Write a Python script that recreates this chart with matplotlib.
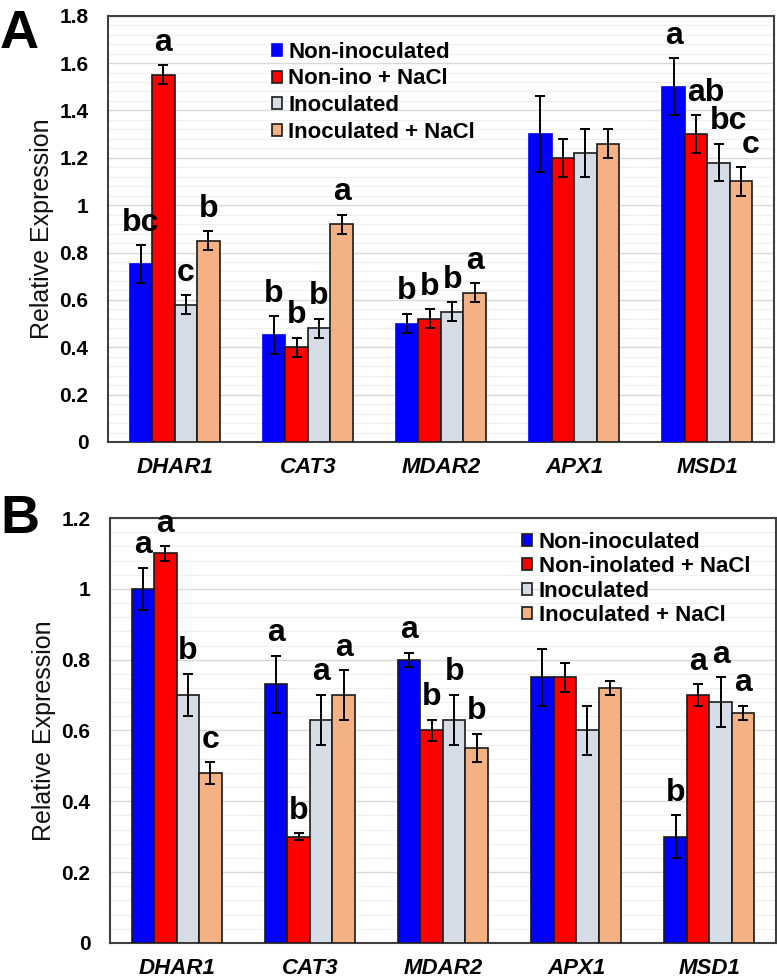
import numpy as np
import matplotlib.pyplot as plt
from matplotlib.ticker import MultipleLocator
from matplotlib.patches import Patch

genes = ["DHAR1", "CAT3", "MDAR2", "APX1", "MSD1"]
colors = ["#0000FF", "#FF0000", "#D6DCE5", "#F4B183"]

labels_a = ["Non-inoculated", "Non-ino + NaCl", "Inoculated", "Inoculated + NaCl"]
labels_b = ["Non-inoculated", "Non-inolated + NaCl", "Inoculated", "Inoculated + NaCl"]

# panel A, one list per treatment, in gene order
a_vals = [[0.75, 0.45, 0.50, 1.30, 1.50],
          [1.55, 0.40, 0.52, 1.20, 1.30],
          [0.58, 0.48, 0.55, 1.22, 1.18],
          [0.85, 0.92, 0.63, 1.26, 1.10]]
a_err = [[0.08, 0.08, 0.04, 0.16, 0.12],
         [0.04, 0.04, 0.04, 0.08, 0.08],
         [0.04, 0.04, 0.04, 0.10, 0.08],
         [0.04, 0.04, 0.04, 0.06, 0.06]]
a_let = [["bc", "b", "b", "", "a"],
         ["a", "b", "b", "", "ab"],
         ["c", "b", "b", "", "bc"],
         ["b", "a", "a", "", "c"]]

# panel B
b_vals = [[1.00, 0.73, 0.80, 0.75, 0.30],
          [1.10, 0.30, 0.60, 0.75, 0.70],
          [0.70, 0.63, 0.63, 0.60, 0.68],
          [0.48, 0.70, 0.55, 0.72, 0.65]]
b_err = [[0.06, 0.08, 0.02, 0.08, 0.06],
         [0.02, 0.01, 0.03, 0.04, 0.03],
         [0.06, 0.07, 0.07, 0.07, 0.07],
         [0.03, 0.07, 0.04, 0.02, 0.02]]
b_let = [["a", "a", "a", "", "b"],
         ["a", "b", "b", "", "a"],
         ["b", "a", "b", "", "a"],
         ["c", "a", "b", "", "a"]]

plt.rcParams['font.family'] = ['Liberation Sans', 'DejaVu Sans']

fig = plt.figure(figsize=(7.77, 9.8), dpi=100)
ax_a = fig.add_axes([0.139, 0.549, 0.857, 0.435])
ax_b = fig.add_axes([0.1416, 0.0378, 0.857, 0.4336])

w = 0.169
x = np.arange(len(genes))


def draw_panel(ax, vals, errs, lets, labels, ymax, blue_edge, leg_xy, lspace, shift_last=0):
    for j in range(4):
        ec = "#1a1a1a"
        if j == 0 and not blue_edge:
            ec = colors[0]
        pos = x + (j - 1.5) * w
        ax.bar(pos, vals[j], w, color=colors[j], edgecolor=ec, linewidth=1.2, zorder=3)
        ax.errorbar(pos, vals[j], yerr=errs[j], fmt='none', ecolor='black',
                    elinewidth=1.4, capsize=3.5, capthick=1.4, zorder=4)
        for i in range(len(genes)):
            if lets[j][i]:
                dx = shift_last if (i == len(genes) - 1 and j > 0) else 0
                ax.annotate(lets[j][i], (pos[i], vals[j][i] + errs[j][i]),
                            xytext=(dx, 5.5), textcoords='offset points',
                            ha='center', va='bottom', fontsize=23, fontweight='bold',
                            zorder=5)
    ax.set_xlim(-0.5, 4.5)
    ax.set_ylim(0, ymax)
    ax.yaxis.set_major_locator(MultipleLocator(0.2))
    ax.yaxis.set_minor_locator(MultipleLocator(0.04))
    ax.grid(axis='y', which='major', color='#D9D9D9', linewidth=1.0, zorder=0)
    ax.grid(axis='y', which='minor', color='#EFEFEF', linewidth=0.8, zorder=0)
    ax.set_axisbelow(True)
    ax.set_xticks(x)
    ax.set_xticklabels(genes, fontsize=16, fontweight='bold', fontstyle='italic')
    ax.tick_params(axis='x', length=0, pad=11)
    ax.tick_params(axis='y', which='both', length=0, pad=14, labelsize=15)
    ticks = np.round(np.arange(0, ymax + 0.01, 0.2), 1)
    ax.set_yticks(ticks)
    ax.set_yticklabels(["%g" % v for v in ticks], fontweight='bold')
    for s in ax.spines.values():
        s.set_color('#404040')
        s.set_linewidth(1.5)
    ax.set_ylabel("Relative Expression", fontsize=18, labelpad=4, color='#111111')
    handles = []
    for j in range(4):
        ec = "#1a1a1a"
        if j == 0 and not blue_edge:
            ec = colors[0]
        handles.append(Patch(facecolor=colors[j], edgecolor=ec, linewidth=1.2))
    ax.legend(handles, labels, loc='upper left', bbox_to_anchor=leg_xy, frameon=False,
              prop={'size': 16, 'weight': 'bold'}, handlelength=0.45, handleheight=0.45,
              handletextpad=0.3, labelspacing=lspace, borderpad=0, borderaxespad=0)


draw_panel(ax_a, a_vals, a_err, a_let, labels_a, 1.8, False, (0.246, 0.939), 0.26, shift_last=7)
draw_panel(ax_b, b_vals, b_err, b_let, labels_b, 1.2, True, (0.619, 0.968), 0.16)

fig.text(0.0, 0.951, "A", fontsize=39, fontweight='bold', va='baseline')
fig.text(0.0, 0.456, "B", fontsize=39, fontweight='bold', va='baseline')

fig.savefig("out.png", dpi=100)
